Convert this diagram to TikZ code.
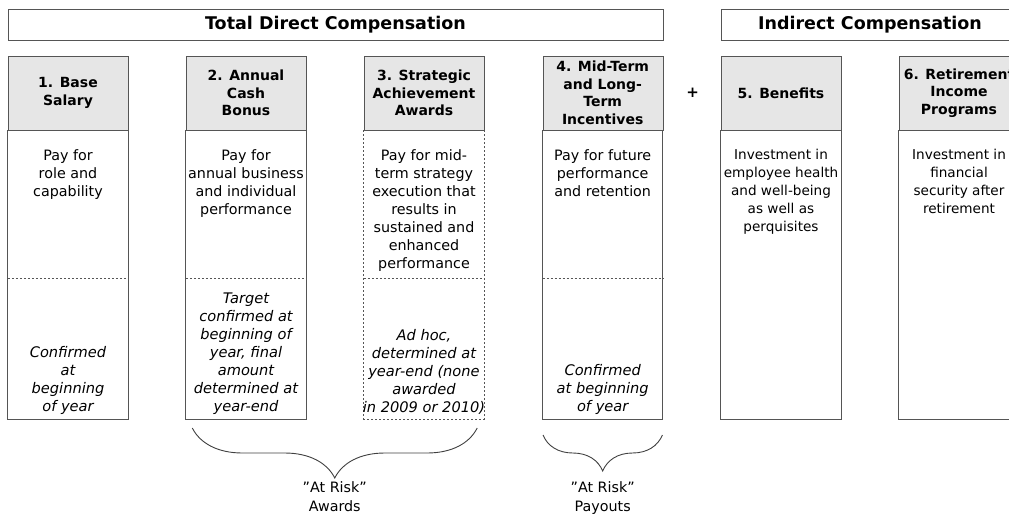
\documentclass[tikz,border=0pt]{standalone}
\usepackage{fontspec}
\setmainfont{DejaVu Sans}
\usetikzlibrary{positioning,decorations.pathreplacing}

\definecolor{framegray}{HTML}{555555}
\definecolor{headfill}{HTML}{E6E6E6}

\tikzset{
  title/.style={draw=framegray, minimum height=31pt, inner sep=0pt, font=\bfseries\fontsize{17.5}{20}\selectfont},
  colhead/.style={draw=framegray, fill=headfill, minimum width=120pt, minimum height=74pt, inner sep=0pt, align=center, font=\bfseries\fontsize{14}{17.5}\selectfont},
  upper/.style={minimum width=120pt, minimum height=148pt, inner sep=0pt},
  lower/.style={minimum width=120pt, minimum height=140pt, inner sep=0pt},
  txt/.style={inner sep=0pt, align=center, font=\fontsize{14.3}{18}\selectfont},
  note/.style={txt, font=\itshape\fontsize{14.6}{18}\selectfont},
  frame/.style={draw=framegray, line width=0.9pt},
  dotline/.style={draw=framegray, line width=0.9pt, dash pattern=on 2pt off 2pt},
  curly/.style={draw=black!75, line width=0.9pt, decorate, decoration={brace, mirror}},
}

\begin{document}
\begin{tikzpicture}[x=1pt,y=-1pt]
\useasboundingbox (0,0) rectangle (1009,514);
\clip (0,0) rectangle (1009,514);

% headings
\node[title, minimum width=655pt] (tdc) at (335.5,25) {Total Direct Compensation};
\node[title, minimum width=298pt] (ic) at (870,25) {Indirect Compensation};

% column heads
\node[colhead] (h1) at (68,93) {1. Base\\Salary};
\node[colhead] (h2) at (246,93) {2. Annual\\Cash\\Bonus};
\node[colhead] (h3) at (424,93) {3. Strategic\\Achievement\\Awards};
\node[colhead] (h4) at (602.7,93) {4. Mid-Term\\and Long-\\Term\\Incentives};
\node[colhead] (h5) at (781,93) {5. Benefits};
\node[colhead] (h6) at (959,93) {6. Retirement\\Income\\Programs};
\node[font=\bfseries\fontsize{15}{16}\selectfont, inner sep=0pt] (plus) at (692.7,93) {+};

% bodies
\foreach \i in {1,...,6} {
  \node[upper, below=0pt of h\i] (u\i) {};
  \node[lower, below=0pt of u\i] (l\i) {};
}
\foreach \i in {1,2,4} {
  \draw[frame] (u\i.north west) -- (l\i.south west) -- (l\i.south east) -- (u\i.north east);
  \draw[dotline] (l\i.north west) -- (l\i.north east);
}
\draw[dotline] (u3.north west) rectangle (l3.south east);
\draw[dotline] (l3.north west) -- (l3.north east);
\foreach \i in {5,6}
  \draw[frame] (u\i.north west) -- (l\i.south west) -- (l\i.south east) -- (u\i.north east);

% what each part pays for
\node[txt, below=19pt of u1.north] (p1) {Pay for\\role and\\capability};
\node[txt, below=19pt of u2.north] (p2) {Pay for\\annual business\\and individual\\performance};
\node[txt, below=19pt of u3.north] (p3) {Pay for mid-\\term strategy\\execution that\\results in\\sustained and\\enhanced\\performance};
\node[txt, below=19pt of u4.north] (p4) {Pay for future\\performance\\and retention};
\node[txt, font=\fontsize{13.6}{18}\selectfont, below=19pt of u5.north] (p5) {Investment in\\employee health\\and well-being\\as well as\\perquisites};
\node[txt, font=\fontsize{13.6}{18}\selectfont, below=19pt of u6.north] (p6) {Investment in\\financial\\security after\\retirement};

% when it is set
\node[note, above=4pt of l1.south] (n1) {Confirmed\\at\\beginning\\of year};
\node[note, above=4pt of l2.south] (n2) {Target\\confirmed at\\beginning of\\year, final\\amount\\determined at\\year-end};
\node[note, above=4pt of l3.south] (n3) {Ad hoc,\\determined at\\year-end (none\\awarded\\in 2009 or 2010)};
\node[note, above=4pt of l4.south] (n4) {Confirmed\\at beginning\\of year};

% at risk braces
\draw[curly, decoration={amplitude=50pt}] ([xshift=6.5pt,yshift=-9pt]l2.south west) -- ([xshift=-7pt,yshift=-9pt]l3.south east) coordinate[midway] (m1);
\draw[curly, decoration={amplitude=36pt}] ([xshift=0.5pt,yshift=-16pt]l4.south west) -- ([xshift=-0.5pt,yshift=-16pt]l4.south east) coordinate[midway] (m2);
\node[txt, font=\fontsize{14.3}{19}\selectfont, below=53pt of m1] (r1) {”At Risk”\\Awards};
\node[txt, font=\fontsize{14.3}{19}\selectfont, below=46pt of m2] (r2) {”At Risk”\\Payouts};
\end{tikzpicture}
\end{document}
